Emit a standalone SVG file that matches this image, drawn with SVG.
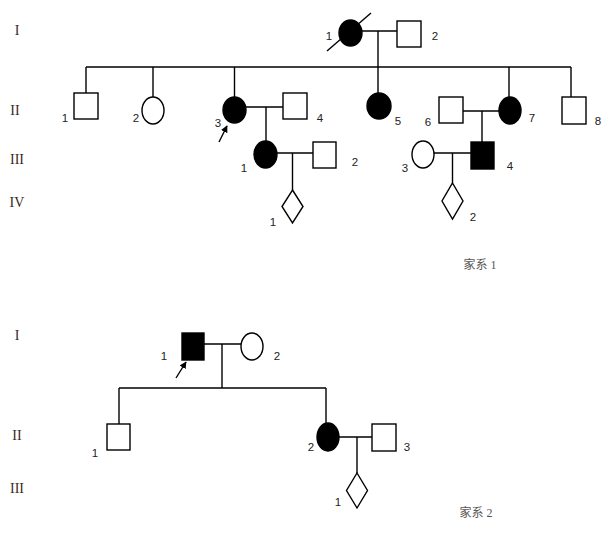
<svg xmlns="http://www.w3.org/2000/svg" width="612" height="535" viewBox="0 0 612 535">
<style>
.ln{stroke:#000;stroke-width:1.4;fill:none}
.o{fill:#fff;stroke:#000;stroke-width:1.4}
.f{fill:#000;stroke:#000;stroke-width:1.4}
.n{font-family:"Liberation Sans",Arial,sans-serif;font-size:11.5px;fill:#222;text-anchor:middle}
.r{font-family:"Liberation Serif","Times New Roman",serif;font-size:14px;fill:#3a2a1a;text-anchor:middle}
.cap{font-family:"Liberation Serif","Noto Sans CJK SC",serif;font-size:12px;fill:#555;text-anchor:middle}
</style>
<defs>
<marker id="ah" viewBox="0 0 10 10" refX="9" refY="5" markerWidth="5" markerHeight="5" orient="auto">
<path d="M0,0 L10,5 L0,10 z" fill="#000"/>
</marker>
</defs>
<rect width="612" height="535" fill="#fff"/>
<g id="generations">
<text class="r" x="17" y="35">I</text>
<text class="r" x="15" y="115">II</text>
<text class="r" x="17" y="164">III</text>
<text class="r" x="17" y="207">IV</text>
<text class="r" x="17" y="340">I</text>
<text class="r" x="17" y="440">II</text>
<text class="r" x="17" y="493">III</text>
</g>
<g id="connectors">
<line class="ln" x1="362" y1="31" x2="397" y2="31"/>
<line class="ln" x1="378" y1="31" x2="378" y2="93"/>
<line class="ln" x1="86" y1="67" x2="571" y2="67"/>
<line class="ln" x1="86" y1="67" x2="86" y2="93"/>
<line class="ln" x1="153" y1="67" x2="153" y2="97"/>
<line class="ln" x1="234.5" y1="67" x2="234.5" y2="97"/>
<line class="ln" x1="509" y1="67" x2="509" y2="97"/>
<line class="ln" x1="571" y1="67" x2="571" y2="97"/>
<line class="ln" x1="246" y1="107" x2="283" y2="107"/>
<line class="ln" x1="266" y1="107" x2="266" y2="141"/>
<line class="ln" x1="277" y1="153" x2="313" y2="153"/>
<line class="ln" x1="292.5" y1="153" x2="292.5" y2="190"/>
<line class="ln" x1="463" y1="111" x2="499" y2="111"/>
<line class="ln" x1="482" y1="111" x2="482" y2="142"/>
<line class="ln" x1="434" y1="153" x2="471" y2="153"/>
<line class="ln" x1="452.5" y1="153" x2="452.5" y2="183"/>
<line class="ln" x1="204" y1="344" x2="241" y2="344"/>
<line class="ln" x1="222" y1="344" x2="222" y2="388"/>
<line class="ln" x1="119" y1="388" x2="326" y2="388"/>
<line class="ln" x1="119" y1="388" x2="119" y2="424"/>
<line class="ln" x1="326" y1="388" x2="326" y2="423"/>
<line class="ln" x1="339" y1="437" x2="372" y2="437"/>
<line class="ln" x1="357" y1="437" x2="357" y2="473"/>
<line class="ln" x1="219" y1="142" x2="227" y2="126" marker-end="url(#ah)"/>
<line class="ln" x1="176" y1="378" x2="186" y2="362" marker-end="url(#ah)"/>
</g>
<g id="f1-I-1"><ellipse class="f" cx="350.5" cy="33" rx="11.5" ry="13"/><line class="ln" x1="327" y1="51" x2="371" y2="13"/><text class="n" x="329" y="40">1</text></g>
<g id="f1-I-2"><rect class="o" x="397" y="21" width="24" height="26"/><text class="n" x="435" y="40">2</text></g>
<g id="f1-II-1"><rect class="o" x="74" y="93" width="24" height="26"/><text class="n" x="65" y="122">1</text></g>
<g id="f1-II-2"><ellipse class="o" cx="153" cy="110.5" rx="11" ry="13.5"/><text class="n" x="136" y="122">2</text></g>
<g id="f1-II-3"><ellipse class="f" cx="234.5" cy="110" rx="11.5" ry="13"/><text class="n" x="218" y="127">3</text></g>
<g id="f1-II-4"><rect class="o" x="283" y="93" width="24" height="26"/><text class="n" x="320" y="122">4</text></g>
<g id="f1-II-5"><ellipse class="f" cx="379" cy="106" rx="12" ry="13"/><text class="n" x="398" y="125">5</text></g>
<g id="f1-II-6"><rect class="o" x="439" y="97" width="24" height="26"/><text class="n" x="428" y="126">6</text></g>
<g id="f1-II-7"><ellipse class="f" cx="510" cy="110.5" rx="11" ry="13.5"/><text class="n" x="532" y="122">7</text></g>
<g id="f1-II-8"><rect class="o" x="562" y="97" width="24" height="27"/><text class="n" x="598" y="125">8</text></g>
<g id="f1-III-1"><ellipse class="f" cx="265.5" cy="154.5" rx="11.5" ry="13.5"/><text class="n" x="244" y="172">1</text></g>
<g id="f1-III-2"><rect class="o" x="313" y="142" width="23" height="26"/><text class="n" x="355" y="166">2</text></g>
<g id="f1-III-3"><ellipse class="o" cx="423" cy="154.5" rx="11" ry="13.5"/><text class="n" x="405" y="172">3</text></g>
<g id="f1-III-4"><rect class="f" x="471" y="142" width="23" height="27"/><text class="n" x="510" y="170">4</text></g>
<g id="f1-IV-1"><polygon class="o" points="292.5,190 303,206.5 292.5,223 282,206.5"/><text class="n" x="273" y="226">1</text></g>
<g id="f1-IV-2"><polygon class="o" points="452.5,183 463,201 452.5,219 442,201"/><text class="n" x="473" y="221">2</text></g>
<text class="cap" x="480" y="269">家系 1</text>
<g id="f2-I-1"><rect class="f" x="182" y="333" width="22" height="27"/><text class="n" x="164" y="360">1</text></g>
<g id="f2-I-2"><ellipse class="o" cx="252" cy="346.5" rx="11" ry="13.5"/><text class="n" x="277" y="360">2</text></g>
<g id="f2-II-1"><rect class="o" x="107" y="424" width="23" height="26"/><text class="n" x="95" y="457">1</text></g>
<g id="f2-II-2"><ellipse class="f" cx="328" cy="437" rx="11" ry="14"/><text class="n" x="311" y="451">2</text></g>
<g id="f2-II-3"><rect class="o" x="372" y="424" width="24" height="27"/><text class="n" x="407" y="451">3</text></g>
<g id="f2-III-1"><polygon class="o" points="357,473 367.5,490.5 357,508 346.5,490.5"/><text class="n" x="338" y="506">1</text></g>
<text class="cap" x="476" y="517">家系 2</text>
</svg>
